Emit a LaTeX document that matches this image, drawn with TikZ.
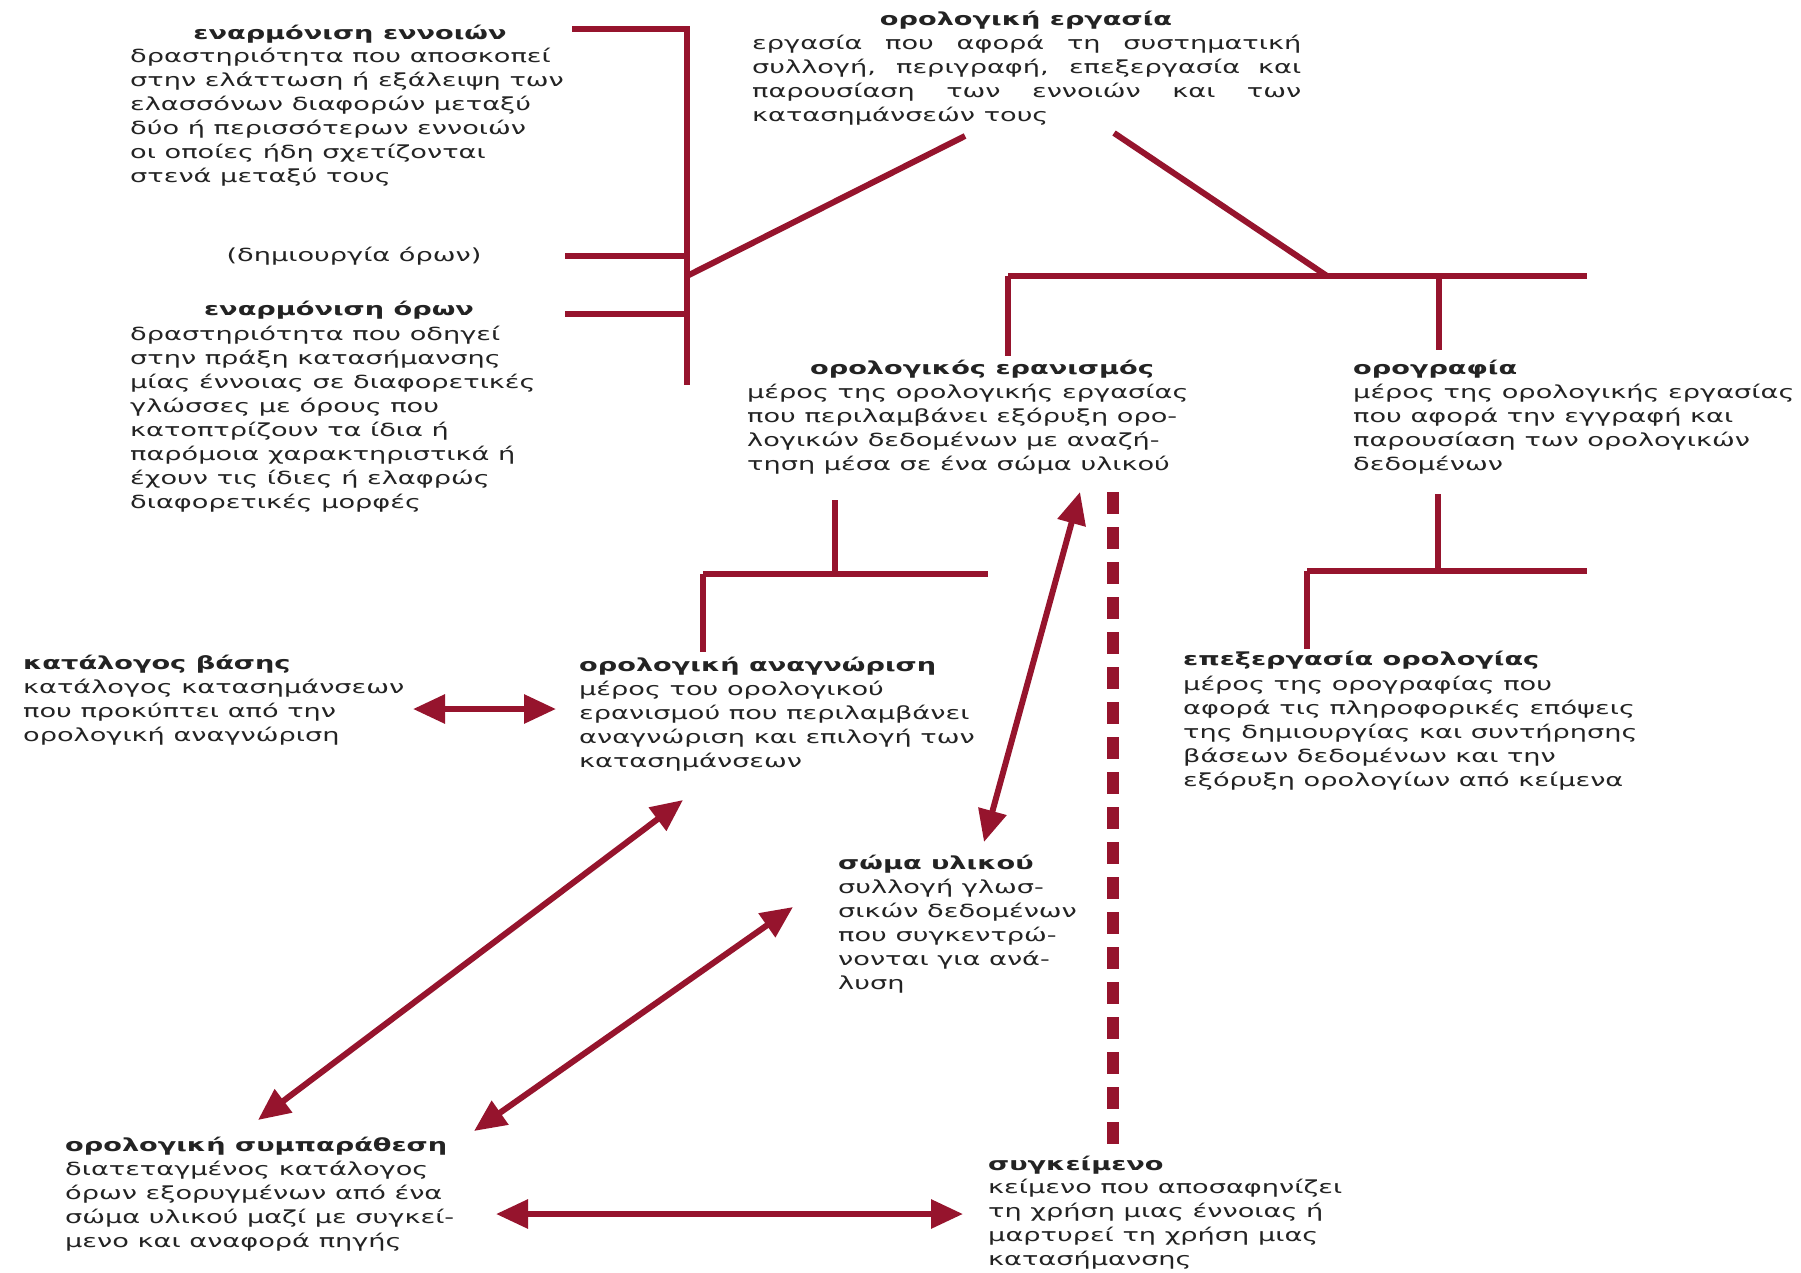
\documentclass[tikz,border=0pt]{standalone}
\usepackage{fontspec}
\setmainfont{DejaVu Sans}[FakeStretch=1.51]
\usetikzlibrary{arrows.meta}
\definecolor{wine}{RGB}{150,20,45}
\definecolor{ink}{RGB}{35,35,35}
\begin{document}
\begin{tikzpicture}[x=1pt,y=-1pt,
  txt/.style={inner sep=0pt, align=left, font=\fontsize{18}{24}\selectfont, text=ink},
  ttl/.style={inner sep=0pt, align=left, font=\fontsize{18}{24}\selectfont\bfseries, text=ink},
  bar/.style={draw=wine, line width=6pt},
  dbl/.style={draw=wine, line width=6pt, {Triangle[length=32pt,width=28pt]}-{Triangle[length=32pt,width=28pt]}},
  dsh/.style={draw=wine, line width=12pt, dash pattern=on 22pt off 13pt}]
\useasboundingbox[fill=white] (0,0) rectangle (1801,1272);

% --- text blocks (body anchors sit on the baseline of the last line) ---
\node[ttl, anchor=base] (tA) at (350,39) {εναρμόνιση εννοιών};
\node[txt, anchor=base west] (bA) at (130,182) {δραστηριότητα που αποσκοπεί\\στην ελάττωση ή εξάλειψη των\\ελασσόνων διαφορών μεταξύ\\δύο ή περισσότερων εννοιών\\οι οποίες ήδη σχετίζονται\\στενά μεταξύ τους};
\node[txt, anchor=base] (tB) at (354,261) {(δημιουργία όρων)};
\node[ttl, anchor=base] (tC) at (339,315) {εναρμόνιση όρων};
\node[txt, anchor=base west] (bC) at (130,508) {δραστηριότητα που οδηγεί\\στην πράξη κατασήμανσης\\μίας έννοιας σε διαφορετικές\\γλώσσες με όρους που\\κατοπτρίζουν τα ίδια ή\\παρόμοια χαρακτηριστικά ή\\έχουν τις ίδιες ή ελαφρώς\\διαφορετικές μορφές};
\node[ttl, anchor=base] (tD) at (1026,25) {ορολογική εργασία};
\node[txt, anchor=base west] (bD) at (752,121) {\makebox[549pt][s]{εργασία που αφορά τη συστηματική}\\\makebox[549pt][s]{συλλογή, περιγραφή, επεξεργασία και}\\\makebox[549pt][s]{παρουσίαση των εννοιών και των}\\κατασημάνσεών τους};
\node[ttl, anchor=base] (tE) at (982,374) {ορολογικός ερανισμός};
\node[txt, anchor=base west] (bE) at (747,470) {μέρος της ορολογικής εργασίας\\που περιλαμβάνει εξόρυξη ορο-\\λογικών δεδομένων με αναζή-\\τηση μέσα σε ένα σώμα υλικού};
\node[ttl, anchor=base west] (tF) at (1353,374) {ορογραφία};
\node[txt, anchor=base west] (bF) at (1353,470) {μέρος της ορολογικής εργασίας\\που αφορά την εγγραφή και\\παρουσίαση των ορολογικών\\δεδομένων};
\node[ttl, anchor=base west] (tG) at (23,669) {κατάλογος βάσης};
\node[txt, anchor=base west] (bG) at (23,741) {κατάλογος κατασημάνσεων\\που προκύπτει από την\\ορολογική αναγνώριση};
\node[ttl, anchor=base west] (tH) at (579,671) {ορολογική αναγνώριση};
\node[txt, anchor=base west] (bH) at (579,767) {μέρος του ορολογικού\\ερανισμού που περιλαμβάνει\\αναγνώριση και επιλογή των\\κατασημάνσεων};
\node[ttl, anchor=base west] (tI) at (1183,665) {επεξεργασία ορολογίας};
\node[txt, anchor=base west] (bI) at (1183,786) {μέρος της ορογραφίας που\\αφορά τις πληροφορικές επόψεις\\της δημιουργίας και συντήρησης\\βάσεων δεδομένων και την\\εξόρυξη ορολογίων από κείμενα};
\node[ttl, anchor=base west] (tJ) at (838,869) {σώμα υλικού};
\node[txt, anchor=base west] (bJ) at (838,989) {συλλογή γλωσ-\\σικών δεδομένων\\που συγκεντρώ-\\νονται για ανά-\\λυση};
\node[ttl, anchor=base west] (tK) at (65,1151) {ορολογική συμπαράθεση};
\node[txt, anchor=base west] (bK) at (65,1247) {διατεταγμένος κατάλογος\\όρων εξορυγμένων από ένα\\σώμα υλικού μαζί με συγκεί-\\μενο και αναφορά πηγής};
\node[ttl, anchor=base west] (tL) at (988,1170) {συγκείμενο};
\node[txt, anchor=base west] (bL) at (988,1265) {κείμενο που αποσαφηνίζει\\τη χρήση μιας έννοιας ή\\μαρτυρεί τη χρήση μιας\\κατασήμανσης};

% --- junction coordinates ---
\coordinate (lt) at (572,29);
\coordinate (lc) at (687,29);
\coordinate (lb) at (687,385);
\coordinate (lm1a) at (565,256);
\coordinate (lm1b) at (687,256);
\coordinate (lm2a) at (565,314);
\coordinate (lm2b) at (687,314);
\coordinate (ld1) at (687,276);
\coordinate (ld2) at (965,136);
\coordinate (rd1) at (1114,133);
\coordinate (rd2) at (1327,276);
\coordinate (rh1) at (1008,276);
\coordinate (rh2) at (1587,276);
\coordinate (rv1) at (1008,356);
\coordinate (rv2a) at (1439,276);
\coordinate (rv2b) at (1439,350);
\coordinate (ea) at (835,500);
\coordinate (eb) at (835,574);
\coordinate (ec) at (703,574);
\coordinate (ed) at (988,574);
\coordinate (ee) at (703,652);
\coordinate (fa) at (1438,494);
\coordinate (fb) at (1438,571);
\coordinate (fc) at (1307,571);
\coordinate (fd) at (1587,571);
\coordinate (fe) at (1307,649);
\coordinate (da) at (1113,492);
\coordinate (db) at (1113,1149);
\coordinate (a1a) at (413,709);
\coordinate (a1b) at (556,709);
\coordinate (a2a) at (1080,492);
\coordinate (a2b) at (984,842);
\coordinate (a3a) at (683,800);
\coordinate (a3b) at (258,1120);
\coordinate (a4a) at (793,907);
\coordinate (a4b) at (474,1131);
\coordinate (a5a) at (496,1214);
\coordinate (a5b) at (963,1214);

% --- bracket lines ---
\draw[bar] (lt) -- (lc) -- (lb);
\draw[bar] (lm1a) -- (lm1b);
\draw[bar] (lm2a) -- (lm2b);
\draw[bar] (ld1) -- (ld2);
\draw[bar] (rd1) -- (rd2);
\draw[bar] (rh1) -- (rh2);
\draw[bar] (rh1) -- (rv1);
\draw[bar] (rv2a) -- (rv2b);
\draw[bar] (ea) -- (eb);
\draw[bar] (ec) -- (ed);
\draw[bar] (ec) -- (ee);
\draw[bar] (fa) -- (fb);
\draw[bar] (fc) -- (fd);
\draw[bar] (fc) -- (fe);
\draw[dsh] (da) -- (db);

% --- arrows ---
\draw[dbl] (a1a) -- (a1b);
\draw[dbl] (a2a) -- (a2b);
\draw[dbl] (a3a) -- (a3b);
\draw[dbl] (a4a) -- (a4b);
\draw[dbl] (a5a) -- (a5b);
\end{tikzpicture}
\end{document}
